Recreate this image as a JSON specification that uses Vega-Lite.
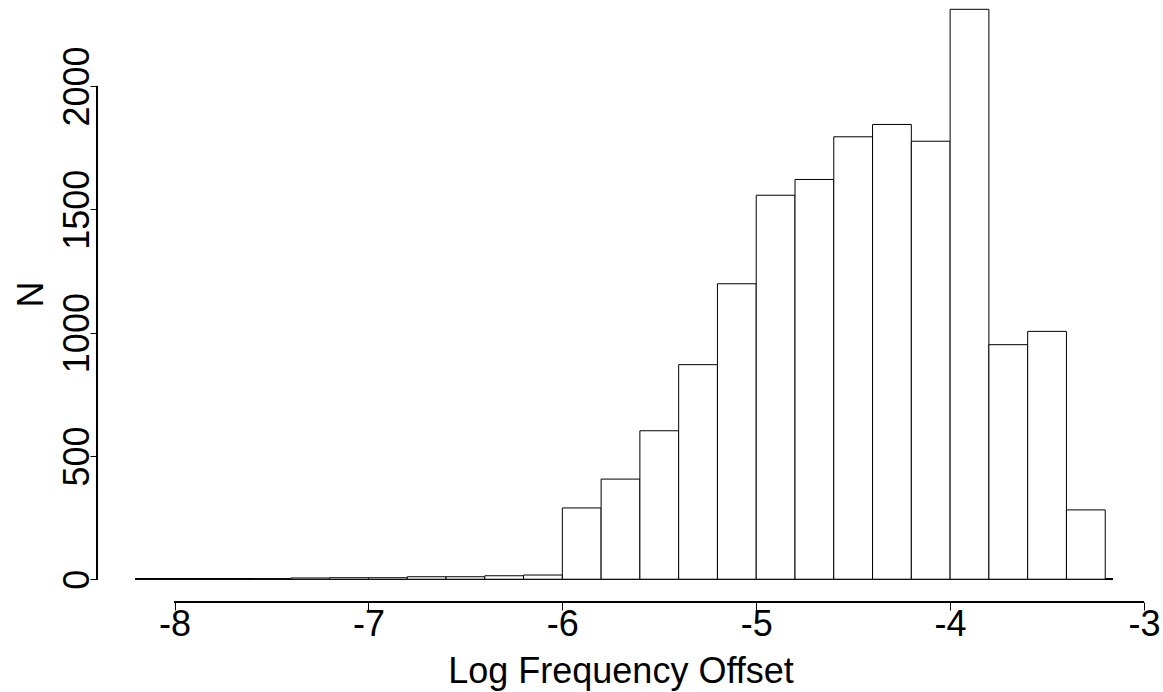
{
  "$schema": "https://vega.github.io/schema/vega-lite/v6.json",
  "width": 1047,
  "height": 602,
  "autosize": {"type": "none"},
  "padding": {"left": 97, "top": 0, "right": 19, "bottom": 90},
  "background": "white",
  "config": {
    "view": {"stroke": null},
    "font": "Liberation Sans",
    "axis": {"grid": false, "domain": false, "tickColor": "black", "tickWidth": 1, "labelColor": "black", "titleColor": "black", "labelFont": "Liberation Sans", "titleFont": "Liberation Sans", "titleFontWeight": "normal", "labelFlush": false, "labelOverlap": false}
  },
  "data": {"values": [
    {"lo": -8.2, "hi": -8.0, "n": 1},
    {"lo": -8.0, "hi": -7.8, "n": 1},
    {"lo": -7.8, "hi": -7.6, "n": 1},
    {"lo": -7.6, "hi": -7.4, "n": 2},
    {"lo": -7.4, "hi": -7.2, "n": 5},
    {"lo": -7.2, "hi": -7.0, "n": 6},
    {"lo": -7.0, "hi": -6.8, "n": 6},
    {"lo": -6.8, "hi": -6.6, "n": 10},
    {"lo": -6.6, "hi": -6.4, "n": 10},
    {"lo": -6.4, "hi": -6.2, "n": 14},
    {"lo": -6.2, "hi": -6.0, "n": 17},
    {"lo": -6.0, "hi": -5.8, "n": 289},
    {"lo": -5.8, "hi": -5.6, "n": 406},
    {"lo": -5.6, "hi": -5.4, "n": 602},
    {"lo": -5.4, "hi": -5.2, "n": 870},
    {"lo": -5.2, "hi": -5.0, "n": 1198},
    {"lo": -5.0, "hi": -4.8, "n": 1557},
    {"lo": -4.8, "hi": -4.6, "n": 1621},
    {"lo": -4.6, "hi": -4.4, "n": 1794},
    {"lo": -4.4, "hi": -4.2, "n": 1844},
    {"lo": -4.2, "hi": -4.0, "n": 1776},
    {"lo": -4.0, "hi": -3.8, "n": 2311},
    {"lo": -3.8, "hi": -3.6, "n": 951},
    {"lo": -3.6, "hi": -3.4, "n": 1005},
    {"lo": -3.4, "hi": -3.2, "n": 281}
  ]},
  "layer": [
    {
      "mark": {"type": "rule", "color": "black", "strokeWidth": 1},
      "encoding": {"x": {"datum": -8.2}, "x2": {"datum": -3.16}, "y": {"datum": 0}}
    },
    {
      "mark": {"type": "rect", "fill": "white", "stroke": "black", "strokeWidth": 1},
      "encoding": {
        "x": {"field": "lo", "type": "quantitative",
          "scale": {"domain": [-8.4, -3.0], "nice": false, "zero": false},
          "axis": {"values": [-8, -7, -6, -5, -4, -3], "labelExpr": "'' + datum.value", "tickSize": 8, "labelFontSize": 36, "labelAlign": "center", "labelBaseline": "alphabetic", "labelPadding": 25, "title": "Log Frequency Offset", "titleFontSize": 36, "titleAlign": "center", "titleBaseline": "alphabetic", "titleX": 523.5, "titleY": 80}},
        "x2": {"field": "hi"},
        "y": {"field": "n", "type": "quantitative",
          "scale": {"domain": [-92.4, 2348.7], "nice": false, "zero": false},
          "axis": {"values": [0, 500, 1000, 1500, 2000], "format": "d", "tickSize": 7, "labelFontSize": 36, "labelAngle": -90, "labelAlign": "center", "labelBaseline": "alphabetic", "labelPadding": 2, "title": "N", "titleFontSize": 36, "titleAngle": -90, "titleAlign": "center", "titleBaseline": "alphabetic", "titleX": -55, "titleY": 294}},
        "y2": {"datum": 0}
      }
    },
    {
      "mark": {"type": "rule", "color": "black", "strokeWidth": 1},
      "encoding": {"x": {"datum": -8.4}, "y": {"datum": 0}, "y2": {"datum": 2000}}
    },
    {
      "mark": {"type": "rule", "color": "black", "strokeWidth": 1},
      "encoding": {"x": {"datum": -8}, "x2": {"datum": -3}, "y": {"datum": -92.4}}
    }
  ]
}
